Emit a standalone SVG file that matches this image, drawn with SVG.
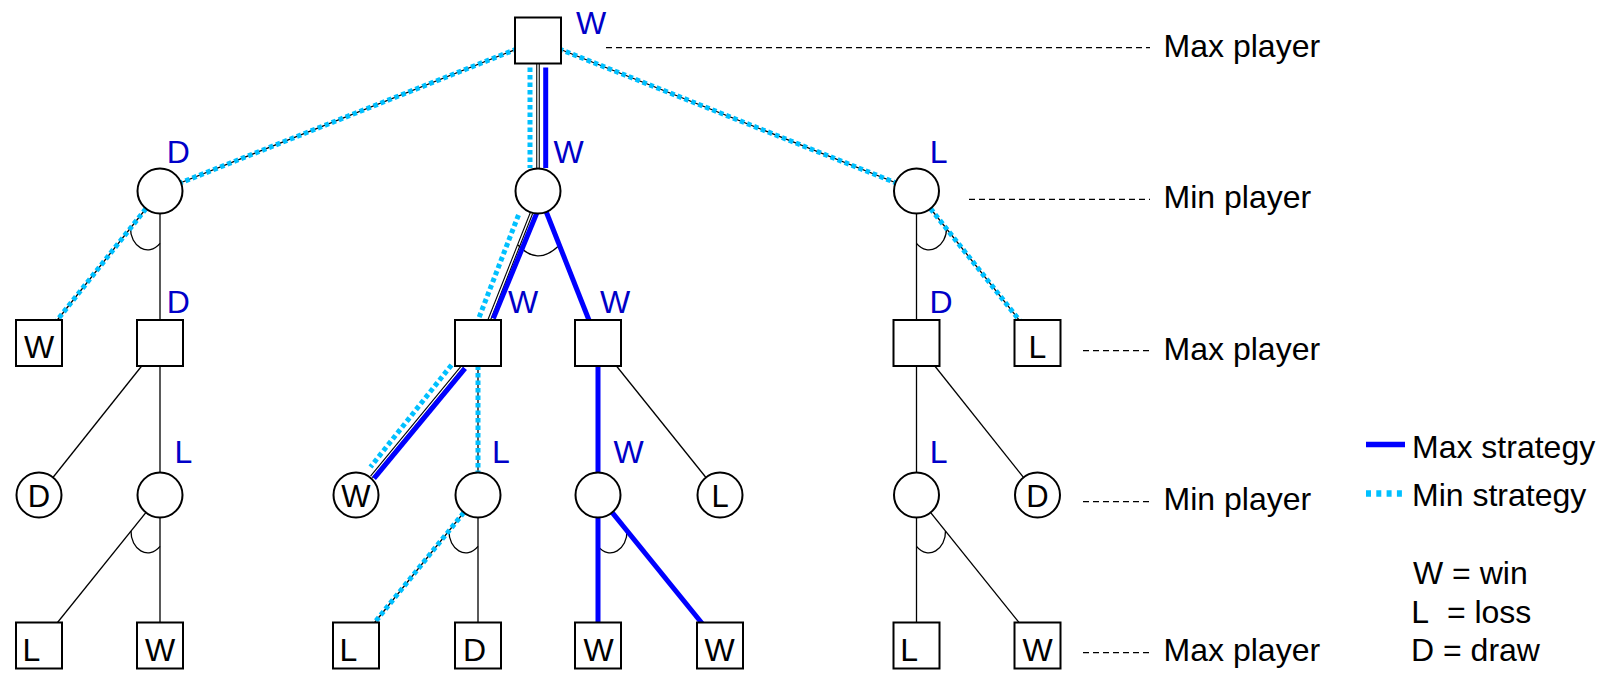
<svg xmlns="http://www.w3.org/2000/svg" width="1604" height="675" viewBox="0 0 1604 675">
<style>
.sq{fill:#fff;stroke:#000;stroke-width:2}
.ci{fill:#fff;stroke:#000;stroke-width:2}
.e{stroke:#000;stroke-width:1.3;fill:none}
.dbl{stroke:#000;stroke-width:3.6;fill:none}
.dblw{stroke:#fff;stroke-width:1.4;fill:none}
.mn{stroke:#00c0ff;stroke-width:5;stroke-dasharray:4.5 3;fill:none}
.mx{stroke:#0000ff;stroke-width:5;fill:none}
.arc{stroke:#000;stroke-width:1.3;fill:none}
.g{stroke:#000;stroke-width:1.2;stroke-dasharray:6 4}
text{font-family:"Liberation Sans",Arial,sans-serif}
.lb{font-size:32px;fill:#0000c8}
.t{font-size:32px;fill:#000}
.ts{font-size:32px;fill:#000;text-anchor:middle}
.tc{font-size:31px;fill:#000;text-anchor:middle}
</style>
<rect width="1604" height="675" fill="#fff"/>

<g id="connectors">
  <g id="edges-black">
    <line class="e" x1="538" y1="40.5" x2="160" y2="191"/>
    <line class="e" x1="538" y1="40.5" x2="916.5" y2="191"/>
    <line class="e" x1="160" y1="191" x2="39" y2="343"/>
    <line class="e" x1="160" y1="191" x2="160" y2="343"/>
    <line class="e" x1="538" y1="191" x2="598" y2="343"/>
    <line class="e" x1="916.5" y1="191" x2="916.5" y2="343"/>
    <line class="e" x1="916.5" y1="191" x2="1037.5" y2="343"/>
    <line class="e" x1="160" y1="343" x2="39" y2="495"/>
    <line class="e" x1="160" y1="343" x2="160" y2="495"/>
    <line class="e" x1="478" y1="343" x2="478" y2="495"/>
    <line class="e" x1="598" y1="343" x2="598" y2="495"/>
    <line class="e" x1="598" y1="343" x2="720" y2="495"/>
    <line class="e" x1="916.5" y1="343" x2="916.5" y2="495"/>
    <line class="e" x1="916.5" y1="343" x2="1037.5" y2="495"/>
    <line class="e" x1="160" y1="495" x2="39" y2="645.5"/>
    <line class="e" x1="160" y1="495" x2="160" y2="645.5"/>
    <line class="e" x1="478" y1="495" x2="356" y2="645.5"/>
    <line class="e" x1="478" y1="495" x2="478" y2="645.5"/>
    <line class="e" x1="598" y1="495" x2="598" y2="645.5"/>
    <line class="e" x1="598" y1="495" x2="720" y2="645.5"/>
    <line class="e" x1="916.5" y1="495" x2="916.5" y2="645.5"/>
    <line class="e" x1="916.5" y1="495" x2="1037.5" y2="645.5"/>
    <line class="dbl" x1="538" y1="63.5" x2="538" y2="168.5"/>
    <line class="dblw" x1="538" y1="63.5" x2="538" y2="168.5"/>
    <line class="dbl" x1="531.5" y1="213" x2="489" y2="320.5"/>
    <line class="dblw" x1="531.5" y1="213" x2="489" y2="320.5"/>
    <line class="dbl" x1="462.5" y1="366.5" x2="371.5" y2="477"/>
    <line class="dblw" x1="462.5" y1="366.5" x2="371.5" y2="477"/>
  </g>
  <g id="arcs">
    <path class="arc" d="M130.5 228 C130 246 148 258 160 243.3"/>
    <path class="arc" d="M518 245 Q537 266 558 246.5"/>
    <path class="arc" d="M946.5 228 C947 246 928.5 258 916.5 243.3"/>
    <path class="arc" d="M131 531 C130.5 549 148 561 160 546.3"/>
    <path class="arc" d="M449 531 C448.5 549 466 561 478 546.3"/>
    <path class="arc" d="M627 531 C627.5 549 610 561 598 546.3"/>
    <path class="arc" d="M945.5 531 C946 549 928.5 561 916.5 546.3"/>
  </g>
  <g id="max-strategy">
    <line class="mx" x1="545.7" y1="67.5" x2="545.7" y2="168"/>
    <line class="mx" x1="536.7" y1="213.3" x2="493.3" y2="318.5"/>
    <line class="mx" x1="465" y1="368.3" x2="374" y2="478.3"/>
    <line class="mx" x1="538" y1="191" x2="598" y2="343"/>
    <line class="mx" x1="598" y1="343" x2="598" y2="495"/>
    <line class="mx" x1="598" y1="495" x2="598" y2="645.5"/>
    <line class="mx" x1="598" y1="495" x2="720" y2="645.5"/>
  </g>
  <g id="min-strategy">
    <line class="mn" x1="538" y1="40.5" x2="160" y2="191"/>
    <line class="mn" x1="538" y1="40.5" x2="916.5" y2="191"/>
    <line class="mn" x1="160" y1="191" x2="39" y2="343"/>
    <line class="mn" x1="916.5" y1="191" x2="1037.5" y2="343"/>
    <line class="mn" x1="478" y1="343" x2="478" y2="495"/>
    <line class="mn" x1="478" y1="495" x2="356" y2="645.5"/>
    <line class="mn" x1="530" y1="67.5" x2="530" y2="168"/>
    <line class="mn" x1="518.5" y1="215" x2="478.5" y2="319"/>
    <line class="mn" x1="451.5" y1="365" x2="370.5" y2="467"/>
  </g>
</g>

<g id="n-root"><rect class="sq" x="515" y="17.5" width="46" height="46"/><text class="lb" x="576" y="33.5">W</text></g>

<g id="n-min-left"><circle class="ci" cx="160" cy="191" r="22.5"/><text class="lb" x="166.7" y="162.5">D</text></g>
<g id="n-min-mid"><circle class="ci" cx="538" cy="191" r="22.5"/><text class="lb" x="553.5" y="162.5">W</text></g>
<g id="n-min-right"><circle class="ci" cx="916.5" cy="191" r="22.5"/><text class="lb" x="929.7" y="162.5">L</text></g>

<g id="n-leaf-w2a"><rect class="sq" x="16" y="320" width="46" height="46"/><text class="ts" x="39" y="358">W</text></g>
<g id="n-max-b2"><rect class="sq" x="137" y="320" width="46" height="46"/><text class="lb" x="166.7" y="312.5">D</text></g>
<g id="n-max-d2"><rect class="sq" x="455" y="320" width="46" height="46"/><text class="lb" x="508" y="312.5">W</text></g>
<g id="n-max-e2"><rect class="sq" x="575" y="320" width="46" height="46"/><text class="lb" x="600" y="312.5">W</text></g>
<g id="n-max-g2"><rect class="sq" x="893.5" y="320" width="46" height="46"/><text class="lb" x="929.5" y="312.5">D</text></g>
<g id="n-leaf-l2h"><rect class="sq" x="1014.5" y="320" width="46" height="46"/><text class="ts" x="1037.5" y="358">L</text></g>

<g id="n-leaf-d3a"><circle class="ci" cx="39" cy="495" r="22.5"/><text class="tc" x="39" y="506.5">D</text></g>
<g id="n-min-b3"><circle class="ci" cx="160" cy="495" r="22.5"/><text class="lb" x="174.4" y="463.3">L</text></g>
<g id="n-leaf-w3c"><circle class="ci" cx="356" cy="495" r="22.5"/><text class="tc" x="356" y="506.5">W</text></g>
<g id="n-min-d3"><circle class="ci" cx="478" cy="495" r="22.5"/><text class="lb" x="492" y="463.3">L</text></g>
<g id="n-min-e3"><circle class="ci" cx="598" cy="495" r="22.5"/><text class="lb" x="613.5" y="463.3">W</text></g>
<g id="n-leaf-l3f"><circle class="ci" cx="720" cy="495" r="22.5"/><text class="tc" x="720" y="506.5">L</text></g>
<g id="n-min-g3"><circle class="ci" cx="916.5" cy="495" r="22.5"/><text class="lb" x="929.7" y="463.3">L</text></g>
<g id="n-leaf-d3h"><circle class="ci" cx="1037.5" cy="495" r="22.5"/><text class="tc" x="1037.5" y="506.5">D</text></g>

<g id="n-leaf-l4a"><rect class="sq" x="16" y="622.5" width="46" height="46"/><text class="t" x="22.5" y="661">L</text></g>
<g id="n-leaf-w4b"><rect class="sq" x="137" y="622.5" width="46" height="46"/><text class="ts" x="160" y="661">W</text></g>
<g id="n-leaf-l4c"><rect class="sq" x="333" y="622.5" width="46" height="46"/><text class="t" x="339.5" y="661">L</text></g>
<g id="n-leaf-d4d"><rect class="sq" x="455" y="622.5" width="46" height="46"/><text class="ts" x="474.5" y="661">D</text></g>
<g id="n-leaf-w4e"><rect class="sq" x="575" y="622.5" width="46" height="46"/><text class="ts" x="598.5" y="661">W</text></g>
<g id="n-leaf-w4f"><rect class="sq" x="697" y="622.5" width="46" height="46"/><text class="ts" x="719.5" y="661">W</text></g>
<g id="n-leaf-l4g"><rect class="sq" x="893.5" y="622.5" width="46" height="46"/><text class="t" x="900.2" y="661">L</text></g>
<g id="n-leaf-w4h"><rect class="sq" x="1014.5" y="622.5" width="46" height="46"/><text class="ts" x="1037.5" y="661">W</text></g>

<g id="levels">
  <line class="g" x1="606" y1="47.7" x2="1150" y2="47.7"/>
  <line class="g" x1="969" y1="199.3" x2="1150" y2="199.3"/>
  <line class="g" x1="1083" y1="350.7" x2="1150" y2="350.7"/>
  <line class="g" x1="1083" y1="501.7" x2="1150" y2="501.7"/>
  <line class="g" x1="1083" y1="652.7" x2="1150" y2="652.7"/>
  <text class="t" x="1163.6" y="57">Max player</text>
  <text class="t" x="1163.6" y="207.5">Min player</text>
  <text class="t" x="1163.6" y="359.5">Max player</text>
  <text class="t" x="1163.6" y="510">Min player</text>
  <text class="t" x="1163.6" y="661">Max player</text>
</g>

<g id="legend">
  <line x1="1366" y1="444.5" x2="1405" y2="444.5" stroke="#0000ff" stroke-width="5.5"/>
  <text class="t" x="1412" y="457.7">Max strategy</text>
  <line x1="1366" y1="493.4" x2="1404" y2="493.4" stroke="#00c0ff" stroke-width="6.5" stroke-dasharray="5 5.3"/>
  <text class="t" x="1412" y="506">Min strategy</text>
  <text class="t" x="1413" y="584.3">W = win</text>
  <text class="t" x="1411.3" y="623.3">L&#160; = loss</text>
  <text class="t" x="1411" y="661">D = draw</text>
</g>
</svg>
